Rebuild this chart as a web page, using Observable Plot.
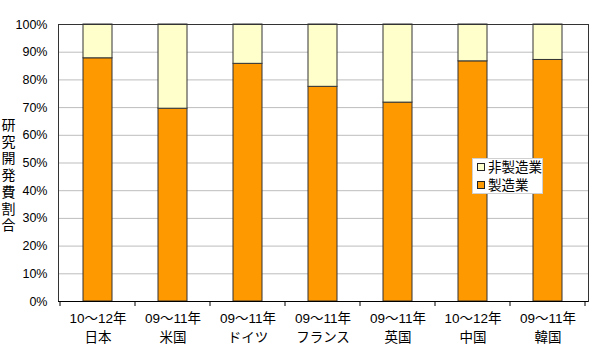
<!DOCTYPE html>
<html><head><meta charset="utf-8">
<script src="https://cdn.jsdelivr.net/npm/d3@7"></script>
<script src="https://cdn.jsdelivr.net/npm/@observablehq/plot@0.6"></script>
<style>
body{margin:0;background:#fff;}
#wrap{position:relative;width:600px;height:360px;font-family:"Liberation Sans","Noto Sans CJK JP",sans-serif;}
#ytitle{position:absolute;left:0px;top:117px;width:17px;font-size:14px;line-height:16.7px;text-align:center;color:#000;}
#legend{position:absolute;left:472px;top:158px;width:71px;height:36px;background:#fff;border:1px solid #d0d0d0;box-sizing:border-box;font-size:13.5px;color:#000;}
#legend .row{position:absolute;left:4px;height:18px;line-height:18px;white-space:nowrap;}
#legend .sw{display:inline-block;width:6px;height:6px;border:1px solid #222;margin-right:3px;vertical-align:1px;}
</style></head>
<body><div id="wrap"></div>
<script>
const countries = ["日本","米国","ドイツ","フランス","英国","中国","韓国"];
const periods = ["10～12年","09～11年","09～11年","09～11年","09～11年","10～12年","09～11年"];
const manufacturing = [87.8, 69.6, 85.8, 77.5, 71.8, 86.7, 87.2];
const nonManufacturing = [12.2, 30.4, 14.2, 22.5, 28.2, 13.3, 12.8];
const seriesNames = ["製造業","非製造業"];
const seriesColors = ["#FF9900","#FFFFCC"];
const yTicks = [0,10,20,30,40,50,60,70,80,90,100];
const yTitle = "研究開発費割合";

const rows = [];
countries.forEach((c,i)=>{
  rows.push({country:c, series:seriesNames[0], value:manufacturing[i]});
  rows.push({country:c, series:seriesNames[1], value:nonManufacturing[i]});
});

const chart = Plot.plot({
  width:600, height:360,
  marginLeft:58, marginRight:12, marginTop:24, marginBottom:59,
  style:{fontFamily:'"Liberation Sans","Noto Sans CJK JP",sans-serif', fontSize:"12px", color:"#000", background:"#fff"},
  x:{domain:countries, paddingInner:0.61, paddingOuter:0.305, label:null},
  y:{domain:[0,100], label:null},
  color:{domain:seriesNames, range:seriesColors},
  marks:[
    Plot.gridY(yTicks,{stroke:"#bdbdbd", strokeOpacity:1}),
    Plot.barY(rows,{x:"country", y:"value", fill:"series", order:seriesNames, stroke:"#333", strokeWidth:1}),
    Plot.frame({stroke:"#333"}),
    Plot.ruleY([0],{stroke:"#000"}),
    Plot.axisY(yTicks,{tickSize:0, tickPadding:11, tickFormat:d=>d+"%", fontSize:12.5}),
    Plot.axisX({tickSize:0, tickPadding:8, fontSize:13.5, lineHeight:1.4,
      tickFormat:(d)=>periods[countries.indexOf(d)]+"\n"+d})
  ]
});
const wrap = document.getElementById("wrap");
wrap.appendChild(chart);

// category boundary ticks below the axis
const xs = chart.scale("x"), ys = chart.scale("y");
const svg = d3.select(chart);
const y0 = ys.apply(0);
const bounds = [];
countries.forEach((c,i)=>{
  const cx = xs.apply(c) + xs.bandwidth/2;
  if(i===0) bounds.push(cx - xs.step/2);
  bounds.push(cx + xs.step/2);
});
svg.append("g").selectAll("line").data(bounds).join("line")
  .attr("x1",d=>d).attr("x2",d=>d).attr("y1",y0).attr("y2",y0+5)
  .attr("stroke","#000");

// vertical y-axis title
const t = document.createElement("div");
t.id="ytitle";
t.innerHTML = Array.from(yTitle).map(ch=>"<div>"+ch+"</div>").join("");
wrap.appendChild(t);

// legend
const lg = document.createElement("div");
lg.id="legend";
[1,0].forEach((si,k)=>{
  const r=document.createElement("div");
  r.className="row"; r.style.top=(k*18)+"px";
  r.innerHTML='<span class="sw" style="background:'+seriesColors[si]+'"></span>'+seriesNames[si];
  lg.appendChild(r);
});
wrap.appendChild(lg);
</script></body></html>
